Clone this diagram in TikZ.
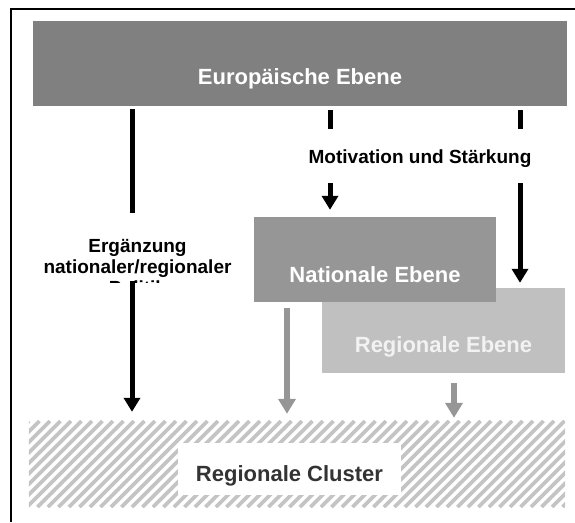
\documentclass[tikz,border=0pt]{standalone}
\usepackage{fontspec}
\setmainfont{Liberation Sans}
\usetikzlibrary{arrows.meta}
\definecolor{eurogray}{HTML}{808080}
\definecolor{natgray}{HTML}{969696}
\definecolor{reggray}{HTML}{C0C0C0}
\definecolor{hatchgray}{HTML}{C4C4C4}
\definecolor{arrowgray}{HTML}{969696}
\definecolor{clustertext}{HTML}{333333}
\tikzset{
  levelbox/.style={fill=#1, draw=none, inner sep=0pt, minimum height=85pt,
    text=white, font=\fontsize{22}{26}\selectfont\bfseries, text depth=0pt},
  lbl/.style={inner sep=0pt, font=\fontsize{19}{21}\selectfont\bfseries, text=black},
  bline/.style={line width=5pt, black},
  barrow/.style={line width=5pt, black, -{Triangle[width=16pt,length=14pt]}},
  garrow/.style={line width=6pt, arrowgray, -{Triangle[width=17pt,length=15pt]}},
  hatchline/.style={line width=3.6pt, hatchgray},
}
\begin{document}
\begin{tikzpicture}[x=1pt,y=-1pt]
\useasboundingbox (0,0) rectangle (575,522);
% frame (top and left edge)
\draw[line width=2pt] (11,522) -- (11,9) -- (575,9);

% x positions of connectors
\coordinate (L) at (132,0);
\coordinate (M) at (330,0);
\coordinate (R) at (520,0);
\coordinate (G1) at (287,0);
\coordinate (G2) at (454,0);

% boxes
\node[levelbox=eurogray, minimum width=534pt, text height=41pt] (euro) at (300,63.5) {Europäische Ebene};
\node[levelbox=reggray, minimum width=243pt, text height=44pt, text=white!95!black] (reg) at (443.5,330.5) {Regionale Ebene};
\node[levelbox=natgray, minimum width=242pt, text height=46pt] (nat) at (375,259.5) {Nationale Ebene};

% hatched cluster area
\node[inner sep=0pt, minimum width=536pt, minimum height=86pt] (cluster) at (297,464) {};
\begin{scope}
  \clip (cluster.north west) rectangle (cluster.south east);
  \foreach \i in {0,...,60} \draw[hatchline] ({-57+\i*10.5},507) -- ++(86,-86);
\end{scope}
\node[fill=white, inner sep=0pt, minimum width=223pt, minimum height=52pt,
  font=\fontsize{22}{26}\selectfont\bfseries, text=clustertext, text height=25.4pt, text depth=0pt]
  (clusterlbl) at (289.5,469) {Regionale Cluster};

% labels
\node[lbl, anchor=base] (mot) at (420,163) {Motivation und Stärkung};
\begin{scope}
  \clip (0,0) rectangle (250,282);
  \node[lbl, align=center, anchor=north] (erg) at (137.5,239) {Ergänzung\\nationaler/regionaler\\Politik};
\end{scope}

% connectors
\coordinate (Lmid) at (132,213);
\coordinate (Lbot) at (132,281);
\coordinate (Mtop) at (330,129);
\coordinate (Mbot) at (330,183);
\coordinate (Rtop) at (520,129);
\coordinate (Rbot) at (520,183);

\draw[bline, shorten <=3pt] (euro.south -| L) -- (Lmid);
\draw[barrow, shorten >=9pt] (Lbot) -- (cluster.north -| L);

\draw[bline, shorten <=4pt] (euro.south -| M) -- (Mtop);
\draw[barrow, shorten >=7pt] (Mbot) -- (nat.north -| M);

\draw[bline, shorten <=4pt] (euro.south -| R) -- (Rtop);
\draw[barrow, shorten >=5pt] (Rbot) -- (reg.north -| R);

\draw[garrow, shorten <=6pt, shorten >=7pt] (nat.south -| G1) -- (cluster.north -| G1);
\draw[garrow, shorten <=10pt, shorten >=3pt] (reg.south -| G2) -- (cluster.north -| G2);
\end{tikzpicture}
\end{document}
